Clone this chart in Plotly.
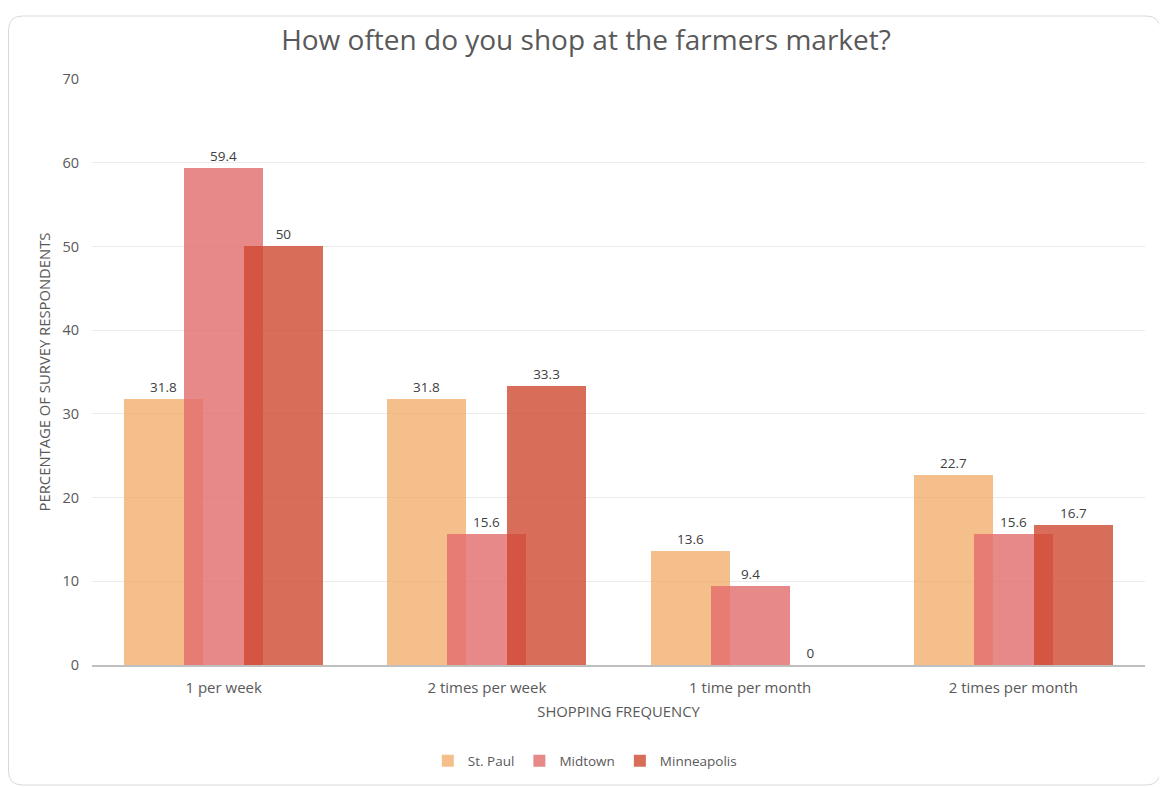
import plotly.graph_objects as go

categories = ["1 per week", "2 times per week", "1 time per month", "2 times per month"]
st_paul = [31.8, 31.8, 13.6, 22.7]
midtown = [59.4, 15.6, 9.4, 15.6]
minneapolis = [50, 33.3, 0, 16.7]
series_names = ["St. Paul", "Midtown", "Minneapolis"]

colors = ["rgba(242,170,100,0.75)", "rgba(226,107,107,0.8)", "rgba(206,74,49,0.8)"]
offsets = [-0.378, -0.15, 0.078]
width = 0.30

# page body has an 8px margin, so the figure is sized/offset to compensate
W, H = 1159, 779
L, R, T, B = 84, 22, 71, 122
PW, PH = W - L - R, H - T - B

FONT = "Open Sans"
fig = go.Figure()
for name, vals, col, off in zip(series_names, [st_paul, midtown, minneapolis], colors, offsets):
    fig.add_trace(go.Bar(
        x=categories, y=vals, name=name,
        marker=dict(color=col, line=dict(width=0)),
        width=width, offset=off,
        text=[f"{v:g}" for v in vals], textposition="outside",
        textfont=dict(family=FONT, size=13.5, color="#404040"),
        cliponaxis=False,
    ))

fig.update_layout(
    width=W, height=H,
    barmode="overlay",
    paper_bgcolor="white", plot_bgcolor="white",
    margin=dict(l=L, r=R, t=T, b=B, autoexpand=False),
    font=dict(family=FONT, color="#595959"),
    title=dict(text="How often do you shop at the farmers market?",
               x=0.4987, xanchor="center", y=0.959, yanchor="middle",
               font=dict(family=FONT, size=28, color="#595959")),
    xaxis=dict(showgrid=False, showline=True, linecolor="#bfbfbf", linewidth=2,
               ticks="", ticklabelstandoff=8,
               tickfont=dict(size=15, color="#595959"), automargin=False,
               title=dict(text="SHOPPING FREQUENCY", font=dict(size=14.8, color="#595959"), standoff=11)),
    yaxis=dict(range=[0, 70], dtick=10, showgrid=True, gridcolor="#ebebeb", gridwidth=1,
               zeroline=False, showline=False, ticks="", automargin=False, ticklabelstandoff=12,
               tickfont=dict(size=14.5, color="#595959"),
               title=dict(text="PERCENTAGE OF SURVEY RESPONDENTS", font=dict(size=14.8, color="#595959"), standoff=8)),
    legend=dict(orientation="h", x=0.468, xanchor="center", yref="container", y=0.0334, yanchor="middle",
                font=dict(size=13.5, color="#595959"), itemwidth=30, traceorder="normal"),
    bargap=0,
)

# rounded card border in paper coords
x0, x1 = (0.5 - L) / PW, (1152 - L) / PW
y0, y1 = (T + PH - 777) / PH, (T + PH - 8) / PH
rx, ry = 14 / PW, 14 / PH
path = (f"M {x0+rx},{y1} L {x1-rx},{y1} Q {x1},{y1} {x1},{y1-ry} L {x1},{y0+ry} "
        f"Q {x1},{y0} {x1-rx},{y0} L {x0+rx},{y0} Q {x0},{y0} {x0},{y0+ry} "
        f"L {x0},{y1-ry} Q {x0},{y1} {x0+rx},{y1} Z")
fig.add_shape(type="path", path=path, xref="paper", yref="paper",
              line=dict(color="#d9d9d9", width=1), layer="below")

fig.write_html("out.html")
